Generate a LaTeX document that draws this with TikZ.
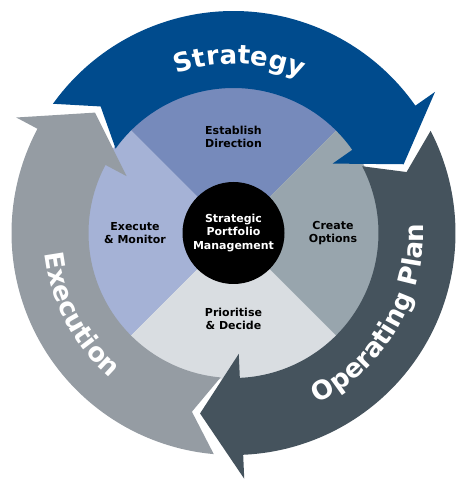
\documentclass[tikz,border=0pt]{standalone}
\usepackage{fontspec}
\setmainfont{DejaVu Sans}
\usepackage{xcolor}
\usepackage{tikz}
\usetikzlibrary{decorations.text}
\definecolor{stratblue}{HTML}{004B8D}
\definecolor{opslate}{HTML}{45535D}
\definecolor{exgray}{HTML}{959CA3}
\definecolor{dirblue}{HTML}{768ABB}
\definecolor{optgray}{HTML}{98A5AD}
\definecolor{decgray}{HTML}{D9DDE1}
\definecolor{monblue}{HTML}{A5B2D6}
\newcommand{\ringfont}{\fontsize{26}{26}\selectfont\bfseries}
\tikzset{
    quad/.style={align=center, inner sep=0pt, text=black, font=\fontsize{11}{13}\selectfont\bfseries},
    hub/.style={circle, fill=black, minimum size=102pt, inner sep=0pt, text=white, align=center, font=\fontsize{11}{13.5}\selectfont\bfseries},
    ringtext/.style={decorate, decoration={text along path, text align=center, text color=white}}
}

\begin{document}
\begin{tikzpicture}[x=1pt, y=1pt]
    \useasboundingbox (-233.5,-256) rectangle (235.5,233);

    % Quadrants
    \fill[dirblue] (0,0) -- (45:147) arc[start angle=45, end angle=135, radius=147] -- cycle;
    \fill[monblue] (0,0) -- (135:147) arc[start angle=135, end angle=225, radius=147] -- cycle;
    \fill[decgray] (0,0) -- (225:147) arc[start angle=225, end angle=315, radius=147] -- cycle;
    \fill[optgray] (0,0) -- (-45:147) arc[start angle=-45, end angle=45, radius=147] -- cycle;

    % Nodes
    \node[hub] (spm) at (0,0) {Strategic\\Portfolio\\Management};
    \node[quad] (dir) at (0,96.5) {Establish\\Direction};
    \node[quad] (mon) at (-98.5,0) {Execute\\\& Monitor};
    \node[quad] (opt) at (99.5,0) {Create\\Options};
    \node[quad] (dec) at (0,-85.5) {Prioritise\\\& Decide};

    % Ring arrows
    \fill[stratblue] (144.4:222) arc[start angle=144.4, end angle=35, radius=222] -- (35:246) -- (22:183.5) -- (35:121)
        -- (35:145) arc[start angle=35, end angle=144.4, radius=145] -- (136.4:183.5) -- cycle;
    \fill[opslate] (27.4:222) arc[start angle=27.4, end angle=-87.5, radius=222] -- (-87.5:246) -- (-100.5:183.5) -- (-87.5:121)
        -- (-87.5:145) arc[start angle=-87.5, end angle=27.4, radius=145] -- (19.4:183.5) -- cycle;
    \fill[exgray] (-95.1:222) arc[start angle=-95.1, end angle=-208, radius=222] -- (-208:246) -- (-221:183.5) -- (-208:121)
        -- (-208:145) arc[start angle=-208, end angle=-95.1, radius=145] -- (-103.1:183.5) -- cycle;

    % Ring labels
    \path[ringtext, decoration={text={|\ringfont|Strategy}}] (150:169) arc[start angle=150, end angle=26, radius=169];
    \path[ringtext, decoration={text={|\ringfont|Operating Plan}}] (-75:190) arc[start angle=-75, end angle=14, radius=190];
    \path[ringtext, decoration={text={|\ringfont|Execution}}] (165:190) arc[start angle=165, end angle=251, radius=190];

\end{tikzpicture}
\end{document}
